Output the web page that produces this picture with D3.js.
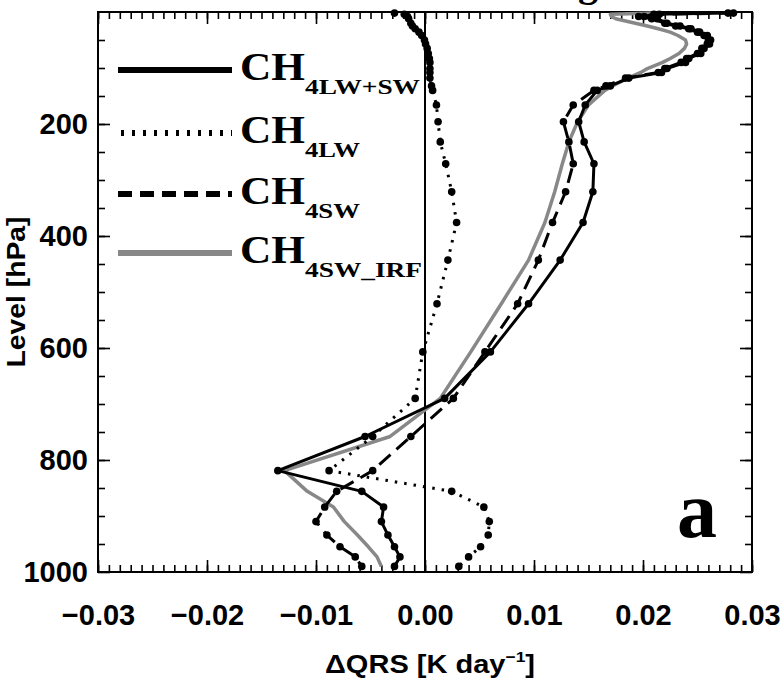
<html>
<head>
<meta charset="utf-8">
<script src="https://d3js.org/d3.v7.min.js"></script>
<style>
  body { margin: 0; background: #fff; }
  .tick text { font-family: "Liberation Sans", Arial, sans-serif; font-weight: bold; }
</style>
</head>
<body>
<svg width="784" height="681"></svg>
<script>
// model levels (hPa) and heating-rate change (K/day)
var levels = [2, 4, 8, 12, 20, 25, 30, 36, 42, 50, 57, 65, 74, 83, 90, 101, 108, 118, 132, 140,
              166, 196, 232, 271, 321, 376, 443, 521, 607, 690, 758, 819, 856, 884, 910, 934, 955, 973, 990];

var qrsLWSW = [0.0278, 0.0210, 0.0201, 0.0213, 0.0222, 0.0234, 0.0244, 0.0252, 0.0259, 0.0262,
               0.0261, 0.0256, 0.0253, 0.0242, 0.0239, 0.0222, 0.0217, 0.0187, 0.0170, 0.0158,
               0.0147, 0.0141, 0.0146, 0.0155, 0.0154, 0.0145, 0.0124, 0.0095, 0.0060, 0.0018,
               -0.0055, -0.0135, -0.0058, -0.0038, -0.0040, -0.0034, -0.0028, -0.0023, -0.0028];

var qrsLW = [-0.0028, -0.0019, -0.0016, -0.0015, -0.0013, -0.00115, -0.0009, -0.00055, -0.0003, -0.00005,
             0.00005, 0.0002, 0.0003, 0.0004, 0.00045, 0.00045, 0.00045, 0.00045, 0.0006, 0.0007,
             0.00105, 0.0012, 0.0014, 0.0019, 0.00245, 0.0029, 0.0021, 0.0011, -0.0002, -0.0009,
             -0.0048, -0.0088, 0.00245, 0.0054, 0.0059, 0.0058, 0.0051, 0.0040, 0.0031];

var qrsSW = [0.0283, 0.0215, 0.0196, 0.0208, 0.0220, 0.0230, 0.0242, 0.0250, 0.0256, 0.0260,
             0.0259, 0.0254, 0.0250, 0.0240, 0.0235, 0.0220, 0.0214, 0.0184, 0.0166, 0.0155,
             0.0136, 0.0127, 0.0132, 0.0136, 0.0129, 0.0117, 0.0104, 0.0085, 0.0055, 0.0026,
             -0.0013, -0.0048, -0.0081, -0.0092, -0.0100, -0.0090, -0.0078, -0.0064, -0.0058];

var qrsIRF = [0.0210, 0.0170, 0.0171, 0.0175, 0.0193, 0.0204, 0.0214, 0.0225, 0.0232, 0.0239,
              0.0240, 0.0238, 0.0233, 0.0225, 0.0218, 0.0204, 0.0198, 0.0186, 0.0172, 0.0165,
              0.0150, 0.0140, 0.0132, 0.0126, 0.0119, 0.0110, 0.0095, 0.0070, 0.0042, 0.0014,
              -0.0032, -0.0129, -0.0108, -0.0084, -0.0074, -0.0062, -0.0052, -0.0044, -0.0040];

var xTicks = [-0.03, -0.02, -0.01, 0.00, 0.01, 0.02, 0.03];
var yTicks = [200, 400, 600, 800, 1000];

var legendNames = ["4LW+SW", "4LW", "4SW", "4SW_IRF"];

var svg = d3.select("svg");
var pL = 98, pR = 752, pT = 12, pB = 572;

var x = d3.scaleLinear().domain([-0.03, 0.03]).range([pL, pR]);
var y = d3.scaleLinear().domain([0, 1000]).range([pT, pB]);

var xMinor = d3.range(-30, 31).map(function(i) { return i / 1000; });
var yMinor = d3.range(50, 1000, 50);

// partly cut title at the very top
svg.append("text")
    .attr("x", 588).attr("y", -4)
    .attr("text-anchor", "middle")
    .attr("font-family", "Liberation Serif, serif")
    .attr("font-weight", "bold")
    .attr("font-size", 40)
    .text("g");

/* axes: ticks point into the plot on all four sides */
function addAxis(axis, tr) {
    var g = svg.append("g").attr("transform", tr).call(axis);
    g.select(".domain").remove();
    g.selectAll(".tick line").attr("stroke", "#000").attr("stroke-width", 1.6);
    return g;
}

addAxis(d3.axisBottom(x).tickValues(xMinor).tickSize(-7).tickFormat(""), "translate(0," + pB + ")");
addAxis(d3.axisTop(x).tickValues(xMinor).tickSize(-7).tickFormat(""), "translate(0," + pT + ")");
var gx = addAxis(d3.axisBottom(x).tickValues(xTicks).tickSize(-12)
        .tickFormat(function(d) { return d3.format(".2f")(d).replace("-", "\u2212"); }),
    "translate(0," + pB + ")");
gx.selectAll(".tick text").attr("font-size", 29).attr("fill", "#000").attr("dy", 0).attr("y", 53);
addAxis(d3.axisTop(x).tickValues(xTicks).tickSize(-12).tickFormat(""), "translate(0," + pT + ")");

addAxis(d3.axisLeft(y).tickValues(yMinor).tickSize(-7).tickFormat(""), "translate(" + pL + ",0)");
addAxis(d3.axisRight(y).tickValues(yMinor).tickSize(-7).tickFormat(""), "translate(" + pR + ",0)");
var gy = addAxis(d3.axisLeft(y).tickValues(yTicks).tickSize(-12).tickFormat(d3.format("d")),
    "translate(" + pL + ",0)");
gy.selectAll(".tick text").attr("font-size", 29).attr("fill", "#000").attr("x", -10);
addAxis(d3.axisRight(y).tickValues(yTicks).tickSize(-12).tickFormat(""), "translate(" + pR + ",0)");

svg.append("rect")
    .attr("x", pL).attr("y", pT)
    .attr("width", pR - pL).attr("height", pB - pT)
    .attr("fill", "none").attr("stroke", "#000").attr("stroke-width", 2);

// zero line
svg.append("line")
    .attr("x1", x(0)).attr("x2", x(0))
    .attr("y1", pT).attr("y2", pB)
    .attr("stroke", "#000").attr("stroke-width", 2);

var line = d3.line()
    .x(function(d) { return x(d[1]); })
    .y(function(d) { return y(d[0]); });

function series(vals, color, width, dash, dots) {
    var pts = d3.zip(levels, vals);
    svg.append("path")
        .attr("d", line(pts))
        .attr("fill", "none")
        .attr("stroke", color)
        .attr("stroke-width", width)
        .attr("stroke-dasharray", dash)
        .attr("stroke-linejoin", "round");
    if (dots) {
        svg.append("g").selectAll("circle")
            .data(pts)
            .enter().append("circle")
            .attr("cx", function(d) { return x(d[1]); })
            .attr("cy", function(d) { return y(d[0]); })
            .attr("r", 3.8)
            .attr("fill", color);
    }
}

series(qrsIRF, "#888", 3.5, null, false);
series(qrsLW, "#000", 3, "2.5,7", true);
series(qrsSW, "#000", 3, "15,8", true);
series(qrsLWSW, "#000", 3, null, true);

/* legend */
var legY = [70, 133, 194, 253];
var legStyle = [
    {color: "#000", dash: null, x1: 118, x2: 232},
    {color: "#000", dash: "3,8", x1: 121, x2: 232},
    {color: "#000", dash: "14,8", x1: 118, x2: 232},
    {color: "#888", dash: null, x1: 118, x2: 232}
];
var subLen = [115, 55, 55, 117];

legendNames.forEach(function(name, i) {
    var s = legStyle[i];
    svg.append("line")
        .attr("x1", s.x1).attr("x2", s.x2)
        .attr("y1", legY[i]).attr("y2", legY[i])
        .attr("stroke", s.color)
        .attr("stroke-width", 6)
        .attr("stroke-dasharray", s.dash);
    svg.append("text")
        .attr("x", 240).attr("y", legY[i] + 10)
        .attr("font-family", "Liberation Serif, serif")
        .attr("font-weight", "bold")
        .attr("font-size", 41)
        .attr("textLength", 65)
        .attr("lengthAdjust", "spacingAndGlyphs")
        .text("CH");
    svg.append("text")
        .attr("x", 305).attr("y", legY[i] + 24)
        .attr("font-family", "Liberation Serif, serif")
        .attr("font-weight", "bold")
        .attr("font-size", 22)
        .attr("textLength", subLen[i])
        .attr("lengthAdjust", "spacingAndGlyphs")
        .text(name);
});

// panel letter
svg.append("text")
    .attr("x", 677).attr("y", 537)
    .attr("font-family", "Liberation Serif, serif")
    .attr("font-weight", "bold")
    .attr("font-size", 80)
    .text("a");

/* axis titles */
svg.append("text")
    .attr("transform", "translate(25,292) rotate(-90)")
    .attr("text-anchor", "middle")
    .attr("font-family", "Liberation Sans, Arial, sans-serif")
    .attr("font-weight", "bold")
    .attr("font-size", 25)
    .attr("textLength", 151)
    .attr("lengthAdjust", "spacingAndGlyphs")
    .text("Level [hPa]");

var xt = svg.append("text")
    .attr("x", 325).attr("y", 673)
    .attr("font-family", "Liberation Sans, Arial, sans-serif")
    .attr("font-weight", "bold")
    .attr("font-size", 25)
    .attr("textLength", 210)
    .attr("lengthAdjust", "spacingAndGlyphs");
xt.append("tspan").text("\u0394QRS [K day");
xt.append("tspan").attr("dy", -11).attr("font-size", 15).text("\u22121");
xt.append("tspan").attr("dy", 11).text("]");
</script>
</body>
</html>
